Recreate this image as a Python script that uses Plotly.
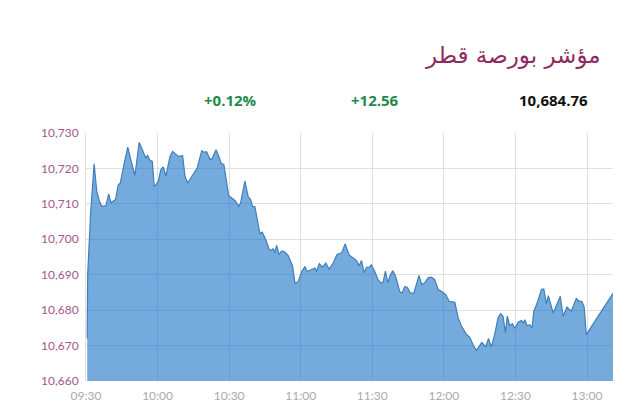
import plotly.graph_objects as go

title_text = "مؤشر بورصة قطر"
stat_labels = ["+0.12%", "+12.56", "10,684.76"]
tick_minutes = [0, 30, 60, 90, 120, 150, 180, 210]
tick_labels = ["09:30", "10:00", "10:30", "11:00", "11:30", "12:00", "12:30", "13:00"]
y_ticks = [10660, 10670, 10680, 10690, 10700, 10710, 10720, 10730]

minutes = [0.5, 0.7, 1.2, 2.0, 3.4, 4.5, 5.6, 6.6, 8.4, 9.5, 10.5, 12.4, 13.5, 14.4, 15.6, 17.5, 18.6, 20.5, 22.3, 24,
           25, 25.8, 26.8, 27.8, 28.6, 29.3, 30.3, 31.4, 32.4, 33.5, 35.2, 36.3, 37.7, 38.7, 40.5, 41.5, 42.6, 44.3,
           45.7, 46.6, 48.5, 49.4, 50.6, 52, 52.9, 54.5, 55.9, 56.6, 57.8, 59, 59.8, 61, 62.6, 64, 64.8, 66.6, 68, 69,
           69.8, 70.8, 72.2, 72.9, 73.9, 75.4, 76.8, 77.8, 78.5, 79.2, 79.9, 80.9, 82, 83.4, 84.8, 86.6, 87.6, 89,
           90.4, 91.8, 92.7, 94.6, 96, 96.6, 97.8, 99.1, 100.5, 101.9, 103.6, 105.3, 107.1, 108.6, 110.3, 112, 113.4,
           114.5, 115.5, 116.6, 117.6, 118.7, 119.6, 121, 122.4, 123.6, 124.5, 125.5, 126.5, 127.6, 128.6, 129.8,
           131.5, 132.5, 133.6, 134.7, 136, 137.4, 138.5, 139.6, 140.7, 142, 143.4, 144.8, 146.2, 147.6, 149, 150.8,
           152.2, 154.6, 156, 157.4, 159.5, 160.8, 162.2, 163.6, 165, 165.9, 167.6, 168.7, 169.9, 171.3, 172.7, 173.8,
           174.8, 175.8, 176.6, 177.6, 178.7, 179.8, 181.1, 182.5, 183.5, 183.9, 184.9, 186, 187, 187.7, 189.1, 190.9,
           191.9, 193, 193.8, 195.8, 197.2, 198.8, 200, 201.6, 203.4, 205.5, 206.7, 207.8, 208.8, 209.7, 220.9]
values = [10672, 10690, 10697, 10708, 10721.3, 10713.6, 10710.8, 10709.3, 10709.5, 10712.8, 10710.3, 10711.2, 10715.4,
          10715.9, 10720.1, 10726, 10723, 10718, 10727.4, 10724.4, 10723, 10723.7, 10722.3, 10722, 10715, 10715.3,
          10716.4, 10719.7, 10720.4, 10717.8, 10723.4, 10724.8, 10723.9, 10723.4, 10723.6, 10717.8, 10715.9, 10717.6,
          10718.9, 10720.1, 10725, 10724.6, 10724.7, 10722.5, 10722.8, 10725.3, 10723, 10721.5, 10721.1, 10715.9,
          10712.3, 10711.7, 10710.8, 10709.3, 10710.3, 10716.4, 10712, 10711.2, 10709.3, 10709.2, 10703.7, 10701.6,
          10702, 10699.8, 10697.1, 10696.9, 10697.3, 10696.2, 10698.3, 10695.7, 10696.7, 10696.4, 10695.3, 10692.4,
          10687.5, 10688.1, 10690.9, 10692.3, 10690.9, 10691.6, 10691.9, 10690.9, 10693.1, 10692.1, 10693.3, 10691.6,
          10693.3, 10695.8, 10696.1, 10698.7, 10695.6, 10694.7, 10694, 10692.5, 10694, 10690.5, 10692.1, 10692.1,
          10692.8, 10691, 10688.6, 10687.7, 10687.8, 10691, 10687.8, 10690, 10691.1, 10689.5, 10685.3, 10684.8,
          10686.7, 10686.4, 10684.8, 10684.8, 10687.2, 10689.8, 10687.2, 10687.7, 10689.1, 10689.3, 10688.6, 10685.8,
          10685.3, 10684.4, 10682.5, 10682.2, 10677.8, 10675.5, 10673.1, 10672.4, 10670.3, 10668.6, 10670, 10670.9,
          10669.6, 10672, 10669.6, 10673.1, 10677.8, 10679, 10678.3, 10673.6, 10678.3, 10675.6, 10676.2, 10674.8,
          10676.6, 10677.1, 10676.4, 10677.3, 10675.6, 10675.9, 10675, 10679.7, 10682, 10685.8, 10686, 10681.8,
          10684.1, 10679.2, 10681.3, 10683.9, 10678.3, 10680.9, 10679.7, 10683.3, 10682.5, 10682.5, 10680.9, 10673.1,
          10684.76]

fig = go.Figure(go.Scatter(
    x=minutes, y=values, mode="lines", fill="tozeroy",
    fillcolor="rgba(23,113,197,0.6)",
    line=dict(color="#3f7fb9", width=1.2),
    hoverinfo="skip",
))

GRID = "#e2dfe3"
fig.update_layout(
    width=640, height=415, showlegend=False,
    margin=dict(l=86, r=27, t=133, b=33.5),
    paper_bgcolor="white", plot_bgcolor="white",
    font=dict(family="Lato, sans-serif"),
    xaxis=dict(range=[0, 220.9], tickvals=tick_minutes, ticktext=tick_labels, automargin=False,
               tickfont=dict(size=12, color="#aaaaaa"), showgrid=True, gridcolor=GRID, gridwidth=1,
               zeroline=False, showline=False, ticks="", ticklabelstandoff=6),
    yaxis=dict(range=[10660, 10730], tickvals=y_ticks, tickformat=",d", automargin=False,
               tickfont=dict(size=12, color="#a5588a"), showgrid=True, gridcolor=GRID, gridwidth=1,
               zeroline=False, showline=True, linecolor=GRID, ticks="", mirror=False, ticklabelstandoff=4),
    annotations=[
        dict(xref="paper", yref="paper", x=(601 - 86) / 527, y=(415 - 33.5 - 57) / 248.5, text=title_text,
             xanchor="right", yanchor="middle", showarrow=False, xshift=2, yshift=2,
             font=dict(family="DejaVu Sans", size=23, color="#8e2a62")),
        dict(xref="paper", yref="paper", x=(230 - 86) / 527, y=(415 - 33.5 - 100) / 248.5, text=f"<b>{stat_labels[0]}</b>",
             xanchor="center", yanchor="middle", showarrow=False, font=dict(family="Open Sans", size=15, color="#1f8a4c")),
        dict(xref="paper", yref="paper", x=(375 - 86) / 527, y=(415 - 33.5 - 100) / 248.5, text=f"<b>{stat_labels[1]}</b>",
             xanchor="center", yanchor="middle", showarrow=False, font=dict(family="Open Sans", size=15, color="#1f8a4c")),
        dict(xref="paper", yref="paper", x=(553 - 86) / 527, y=(415 - 33.5 - 100) / 248.5, text=f"<b>{stat_labels[2]}</b>",
             xanchor="center", yanchor="middle", showarrow=False, font=dict(family="Open Sans", size=15, color="#111111")),
    ],
)
fig.write_html("out.html", config={"displayModeBar": False},
               post_script="document.body.style.margin='0';")
